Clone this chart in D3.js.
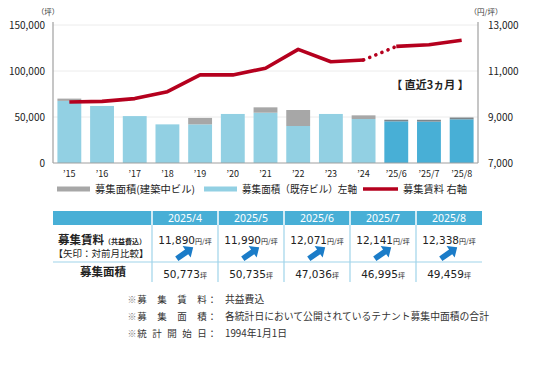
<!DOCTYPE html>
<html lang="ja">
<head>
<meta charset="UTF-8">
<title>募集面積・募集賃料</title>
<script src="https://d3js.org/d3.v7.min.js"></script>
<style>
  body { margin: 0; background: #fff; }
  svg text { font-family: "Noto Sans CJK JP", "Noto Sans", sans-serif; }
</style>
</head>
<body>
<svg id="chart" width="536" height="380"></svg>
<script>
// --- data ---
const periods = ["’15", "’16", "’17", "’18", "’19", "’20", "’21", "’22", "’23", "’24", "’25/6", "’25/7", "’25/8"];
const existingArea = [67500, 62000, 51000, 42000, 42000, 53300, 54700, 40200, 53300, 47800, 45300, 45000, 47500];
const constructionArea = [2500, 0, 0, 0, 7000, 0, 5800, 17400, 0, 4000, 1736, 1995, 1959];
const rent = [9650, 9680, 9800, 10100, 10830, 10830, 11120, 11940, 11400, 11480, 12071, 12141, 12338];
const leftTicks = [0, 50000, 100000, 150000];
const rightTicks = [7000, 9000, 11000, 13000];

const tableMonths = ["2025/4", "2025/5", "2025/6", "2025/7", "2025/8"];
const tableRent = ["11,890", "11,990", "12,071", "12,141", "12,338"];
const tableArea = ["50,773", "50,735", "47,036", "46,995", "49,459"];

const notes = [
  { label: ["募", "集", "賃", "料"], text: "共益費込" },
  { label: ["募", "集", "面", "積"], text: "各統計日において公開されているテナント募集中面積の合計" },
  { label: ["統", "計", "開", "始", "日"], text: "1994年1月1日" }
];

const svg = d3.select("#chart");
const plot = { left: 53, right: 478, top: 25, bottom: 163 };
const recentCount = 3;

const x = d3.scaleBand().domain(periods).range([plot.left, plot.right]).paddingInner(0.27).paddingOuter(0.135);
const yL = d3.scaleLinear().domain([0, 150000]).range([plot.bottom, plot.top]);
const yR = d3.scaleLinear().domain([7000, 13000]).range([plot.bottom, plot.top]);

// grid lines
svg.append("g").selectAll("line").data(leftTicks.slice(1)).join("line")
  .attr("x1", plot.left).attr("x2", plot.right)
  .attr("y1", d => yL(d)).attr("y2", d => yL(d))
  .attr("stroke", "#ececec").attr("stroke-width", 1);

// bars
const isRecent = i => i >= periods.length - recentCount;
const bars = svg.append("g");
periods.forEach((p, i) => {
  bars.append("rect")
    .attr("x", x(p)).attr("width", x.bandwidth())
    .attr("y", yL(existingArea[i])).attr("height", yL(0) - yL(existingArea[i]))
    .attr("fill", isRecent(i) ? "#48afd6" : "#92d0e3");
  if (constructionArea[i] > 0) {
    const top = existingArea[i] + constructionArea[i];
    bars.append("rect")
      .attr("x", x(p)).attr("width", x.bandwidth())
      .attr("y", yL(top)).attr("height", yL(existingArea[i]) - yL(top))
      .attr("fill", isRecent(i) ? "#7d868b" : "#a7a7a7");
  }
});

// axis lines
svg.append("line").attr("x1", plot.left).attr("x2", plot.left).attr("y1", plot.top - 3).attr("y2", plot.bottom)
  .attr("stroke", "#a0a0a0").attr("stroke-width", 1.2);
svg.append("line").attr("x1", plot.right).attr("x2", plot.right).attr("y1", plot.top - 3).attr("y2", plot.bottom)
  .attr("stroke", "#a0a0a0").attr("stroke-width", 1.2);
svg.append("line").attr("x1", plot.left).attr("x2", plot.right).attr("y1", plot.bottom).attr("y2", plot.bottom)
  .attr("stroke", "#a0a0a0").attr("stroke-width", 1.2);

// tick labels
svg.append("g").selectAll("text").data(leftTicks).join("text")
  .attr("x", 45).attr("y", d => yL(d)).attr("dy", "0.35em")
  .attr("text-anchor", "end").attr("font-size", 10).attr("fill", "#222")
  .text(d => d3.format(",")(d));
svg.append("g").selectAll("text").data(rightTicks).join("text")
  .attr("x", 488).attr("y", d => yR(d)).attr("dy", "0.35em")
  .attr("text-anchor", "start").attr("font-size", 10).attr("fill", "#222")
  .text(d => d3.format(",")(d));
svg.append("g").selectAll("text").data(periods).join("text")
  .attr("x", d => x(d) + x.bandwidth() / 2).attr("y", 174).attr("dy", "0.35em")
  .attr("text-anchor", "middle").attr("font-size", 9).attr("fill", "#222")
  .text(d => d);

// units
svg.append("text").attr("x", 48).attr("y", 15).attr("text-anchor", "middle")
  .attr("font-size", 7.5).attr("fill", "#333").text("（坪）");
svg.append("text").attr("x", 486).attr("y", 15).attr("text-anchor", "middle")
  .attr("font-size", 7.5).attr("fill", "#333").text("（円/坪）");

// rent line
const pts = rent.map((v, i) => [x(periods[i]) + x.bandwidth() / 2, yR(v)]);
const line = d3.line();
const lastYear = periods.length - recentCount - 1;
svg.append("path").attr("d", line(pts.slice(0, lastYear + 1)))
  .attr("fill", "none").attr("stroke", "#b5001e").attr("stroke-width", 3.6).attr("stroke-linejoin", "round");
svg.append("path").attr("d", line(pts.slice(lastYear, lastYear + 2)))
  .attr("fill", "none").attr("stroke", "#b5001e").attr("stroke-width", 3.6)
  .attr("stroke-linecap", "round").attr("stroke-dasharray", "0.1,6.5");
svg.append("path").attr("d", line(pts.slice(lastYear + 1)))
  .attr("fill", "none").attr("stroke", "#b5001e").attr("stroke-width", 3.6).attr("stroke-linejoin", "round");

// recent label
svg.append("text").attr("x", 430).attr("y", 85).attr("dy", "0.35em")
  .attr("text-anchor", "middle").attr("font-size", 11).attr("font-weight", "bold").attr("fill", "#222")
  .text("【 直近3ヵ月 】");

// legend
const legend = [
  { x: 57, w: 33, color: "#a7a7a7", h: 5, label: "募集面積(建築中ビル)", len: 100 },
  { x: 204, w: 33, color: "#92d0e3", h: 5, label: "募集面積（既存ビル）左軸", len: 115 },
  { x: 363, w: 35, color: "#b5001e", h: 3.5, label: "募集賃料 右軸", len: 64 }
];
const lg = svg.append("g");
legend.forEach(l => {
  lg.append("rect").attr("x", l.x).attr("y", 189 - l.h / 2).attr("width", l.w).attr("height", l.h).attr("fill", l.color);
  lg.append("text").attr("x", l.x + l.w + 5).attr("y", 189).attr("dy", "0.35em")
    .attr("font-size", 10).attr("fill", "#222")
    .attr("textLength", l.len).attr("lengthAdjust", "spacingAndGlyphs").text(l.label);
});

// table
const tbl = { left: 53, labelRight: 152, right: 482, headTop: 211, headBottom: 225, rowSplit: 262, bottom: 282 };
const colW = (tbl.right - tbl.labelRight) / tableMonths.length;
const colX = i => tbl.labelRight + i * colW;
const t = svg.append("g");

t.append("rect").attr("x", tbl.left).attr("y", tbl.headTop)
  .attr("width", tbl.right - tbl.left).attr("height", tbl.headBottom - tbl.headTop).attr("fill", "#48afd6");
tableMonths.forEach((m, i) => {
  t.append("line").attr("x1", colX(i)).attr("x2", colX(i)).attr("y1", tbl.headTop).attr("y2", tbl.headBottom)
    .attr("stroke", "#fff").attr("stroke-width", 1.5);
  t.append("line").attr("x1", colX(i)).attr("x2", colX(i)).attr("y1", tbl.headBottom).attr("y2", tbl.bottom)
    .attr("stroke", "#9fd4ea").attr("stroke-width", 1.2);
  t.append("text").attr("x", colX(i) + colW / 2).attr("y", (tbl.headTop + tbl.headBottom) / 2).attr("dy", "0.36em")
    .attr("text-anchor", "middle").attr("font-size", 10.5).attr("fill", "#fff")
    .style("font-family", "'Noto Sans', sans-serif").text(m);

  const rentText = t.append("text").attr("x", colX(i) + colW / 2).attr("y", 238).attr("dy", "0.35em")
    .attr("text-anchor", "middle").attr("fill", "#222");
  rentText.append("tspan").attr("font-size", 10.5).style("font-family", "'DejaVu Sans', sans-serif").text(tableRent[i]);
  rentText.append("tspan").attr("font-size", 7).text("円/坪");

  const areaText = t.append("text").attr("x", colX(i) + colW / 2).attr("y", 272).attr("dy", "0.35em")
    .attr("text-anchor", "middle").attr("fill", "#222");
  areaText.append("tspan").attr("font-size", 10.5).style("font-family", "'DejaVu Sans', sans-serif").text(tableArea[i]);
  areaText.append("tspan").attr("font-size", 7).text("坪");

  // up-right arrow
  t.append("path")
    .attr("d", "M-10,-2.8 L2,-2.8 L2,-7 L10,0 L2,7 L2,2.8 L-10,2.8 Z")
    .attr("transform", `translate(${colX(i) + colW / 2},${253}) rotate(-35)`)
    .attr("fill", "#1b7cc8");
});
t.append("line").attr("x1", tbl.left).attr("x2", tbl.right).attr("y1", tbl.rowSplit).attr("y2", tbl.rowSplit)
  .attr("stroke", "#9fd4ea").attr("stroke-width", 1.2);

const lbl1 = t.append("text").attr("x", 58).attr("y", 238).attr("dy", "0.35em").attr("fill", "#222");
lbl1.append("tspan").attr("font-size", 11.5).attr("font-weight", "bold").text("募集賃料");
lbl1.append("tspan").attr("font-size", 7).attr("font-weight", "bold").text("（共益費込）");
t.append("text").attr("x", 101).attr("y", 254).attr("dy", "0.35em").attr("text-anchor", "middle")
  .attr("font-size", 9.5).attr("fill", "#222").text("【矢印：対前月比較】");
t.append("text").attr("x", 103).attr("y", 272).attr("dy", "0.35em").attr("text-anchor", "middle")
  .attr("font-size", 11.5).attr("font-weight", "bold").attr("fill", "#222").text("募集面積");

// footnotes
const nt = svg.append("g").attr("fill", "#333");
notes.forEach((n, r) => {
  const y = 300 + r * 17;
  nt.append("text").attr("x", 132).attr("y", y).attr("dy", "0.35em").attr("text-anchor", "middle")
    .attr("font-size", 9).attr("fill", "#777").text("※");
  const step = 60 / (n.label.length - 1);
  n.label.forEach((c, k) => {
    nt.append("text").attr("x", 142 + k * step).attr("y", y).attr("dy", "0.35em").attr("text-anchor", "middle")
      .attr("font-size", 9.5).text(c);
  });
  nt.append("text").attr("x", 212).attr("y", y).attr("dy", "0.35em").attr("text-anchor", "middle")
    .attr("font-size", 9.5).text("：");
  nt.append("text").attr("x", 225).attr("y", y).attr("dy", "0.35em")
    .attr("font-size", 9.8).text(n.text);
});
</script>
</body>
</html>
